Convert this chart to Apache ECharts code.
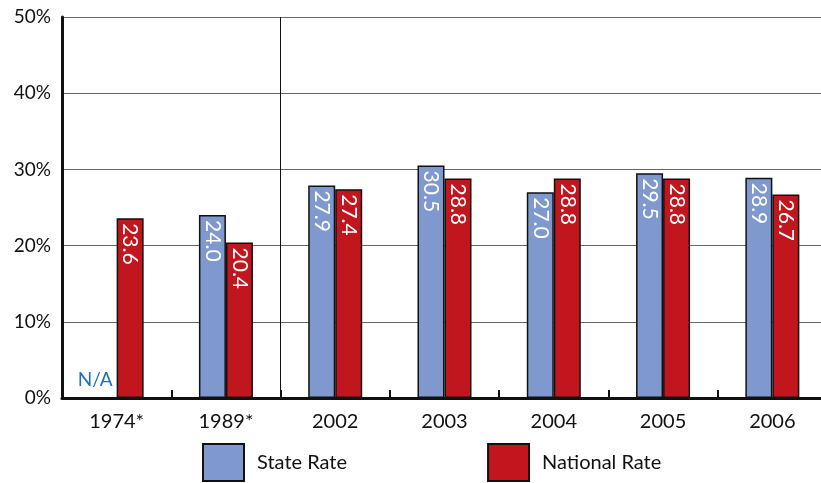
<!DOCTYPE html>
<html>
<head>
<meta charset="utf-8">
<script src="https://cdn.jsdelivr.net/npm/echarts@6/dist/echarts.min.js"></script>
<style>
  html, body { margin: 0; padding: 0; background: #fff; }
  #chart { width: 821px; height: 483px; }
</style>
</head>
<body>
<div id="chart"></div>
<script>
// categories and rates (percent)
const years = ['1974*', '1989*', '2002', '2003', '2004', '2005', '2006'];
const stateRate = [null, 24.0, 27.9, 30.5, 27.0, 29.5, 28.9];
const nationalRate = [23.6, 20.4, 27.4, 28.8, 28.8, 28.8, 26.7];
const yTicks = [0, 10, 20, 30, 40, 50];
// separator between the historic years and the annual series (category boundary)
const separatorAt = 2;

const FONT = 'Lato';
const blue = '#7F99CF';
const red = '#C1161E';

const barLabel = {
  show: true,
  position: 'insideTop',
  rotate: -90,
  align: 'left',
  verticalAlign: 'middle',
  distance: 5,
  color: '#fff',
  fontFamily: FONT,
  fontSize: 21,
  formatter: p => p.value.toFixed(1)
};

// missing state value shows N/A at the baseline
const stateData = stateRate.map(v => v == null ? {
  value: 0,
  itemStyle: { borderWidth: 0, color: 'transparent' },
  label: {
    show: true, position: 'top', rotate: 0, align: 'center', verticalAlign: 'bottom',
    distance: 9, offset: [-8, 0], color: '#1F6DBF', fontSize: 19, formatter: 'N/A'
  }
} : v);

const chart = echarts.init(document.getElementById('chart'));
chart.setOption({
  animation: false,
  textStyle: { fontFamily: FONT },
  grid: { left: 62, top: 17, right: -6, bottom: 85, containLabel: false, outerBoundsMode: 'none' },
  legend: {
    left: 202, top: 443, padding: 0,
    icon: 'rect',
    itemWidth: 41, itemHeight: 37, itemGap: 140,
    textStyle: { fontSize: 20, color: '#111', fontFamily: FONT, padding: [0, 0, 0, 8] },
    data: ['State Rate', 'National Rate']
  },
  xAxis: [{
    type: 'category',
    data: years,
    axisLine: { lineStyle: { color: '#111', width: 3 } },
    axisTick: { show: true, inside: true, length: 8, lineStyle: { color: '#111', width: 2 } },
    axisLabel: { fontSize: 20, color: '#111', margin: 14 }
  }, {
    type: 'value', min: 0, max: years.length, show: false
  }],
  yAxis: {
    type: 'value',
    min: yTicks[0], max: yTicks[yTicks.length - 1], interval: 10,
    axisLine: { show: true, lineStyle: { color: '#111', width: 3 } },
    axisTick: { show: false },
    axisLabel: { fontSize: 19, color: '#111', margin: 11, formatter: '{value}%' },
    splitLine: { lineStyle: { color: '#666', width: 1 } }
  },
  series: [
    {
      name: 'State Rate', type: 'bar', data: stateData,
      barWidth: 27, barGap: '0%',
      itemStyle: { color: blue, borderColor: '#111', borderWidth: 1.5 },
      label: barLabel
    },
    {
      name: 'National Rate', type: 'bar', data: nationalRate,
      barWidth: 27, barGap: '0%',
      itemStyle: { color: red, borderColor: '#111', borderWidth: 1.5 },
      label: barLabel
    },
    {
      type: 'line', xAxisIndex: 1, data: [], silent: true,
      markLine: {
        silent: true, symbol: 'none', label: { show: false },
        lineStyle: { color: '#111', width: 1, type: 'solid' },
        data: [{ xAxis: separatorAt }]
      }
    }
  ]
});
</script>
</body>
</html>
